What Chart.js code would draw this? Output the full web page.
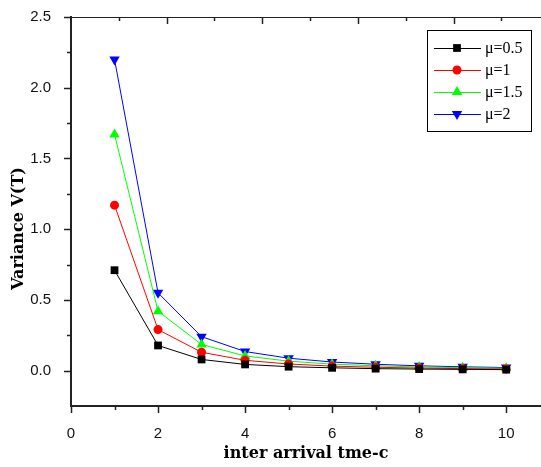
<!DOCTYPE html>
<html>
<head>
<meta charset="utf-8">
<script src="https://cdn.jsdelivr.net/npm/chart.js@4.4.1/dist/chart.umd.min.js"></script>
<style>
  html, body { margin: 0; padding: 0; background: #fff; }
  #wrap { width: 541px; height: 467px; }
</style>
</head>
<body>
<div id="wrap"><canvas id="varChart" width="541" height="467"></canvas></div>
<script>
// Data
const interArrival = [1, 2, 3, 4, 5, 6, 7, 8, 9, 10];
const seriesLabels = ['\u03bc=0.5', '\u03bc=1', '\u03bc=1.5', '\u03bc=2'];
const varMu05 = [0.71, 0.178, 0.079, 0.044, 0.028, 0.020, 0.014, 0.011, 0.009, 0.007];
const varMu1  = [1.17, 0.29, 0.13, 0.073, 0.047, 0.032, 0.024, 0.018, 0.014, 0.012];
const varMu15 = [1.67, 0.42, 0.185, 0.104, 0.067, 0.046, 0.034, 0.026, 0.021, 0.017];
const varMu2  = [2.20, 0.55, 0.24, 0.135, 0.088, 0.061, 0.045, 0.034, 0.027, 0.022];

const serieValues = [varMu05, varMu1, varMu15, varMu2];
const serieColors = ['#000000', '#ff0000', '#00ff00', '#0000ff'];
const serieStyles = ['rect', 'circle', 'triangle', 'triangle'];
const serieRotation = [0, 0, 0, 180];
const serieRadius = [5.5, 4.5, 6, 6];

const yTitle = 'Variance V(T)';

const datasets = serieValues.map((vals, i) => ({
    label: seriesLabels[i],
    data: interArrival.map((c, j) => ({ x: c, y: vals[j] })),
    borderColor: serieColors[i],
    backgroundColor: serieColors[i],
    borderWidth: 1,
    pointStyle: serieStyles[i],
    rotation: serieRotation[i],
    pointRadius: serieRadius[i],
    pointBorderWidth: 0,
    tension: 0
}));

// no extra label padding, so the plot area sits where the reference has it
function noPad(scale) {
    scale.paddingLeft = 0;
    scale.paddingRight = 0;
    scale.paddingTop = 0;
    scale.paddingBottom = 0;
}

// Draws frame, inward/outward ticks (major + minor), y title and the boxed legend
const framePlugin = {
    id: 'frame',
    afterDraw(chart) {
        const ctx = chart.ctx;
        const a = chart.chartArea;
        const xs = chart.scales.x, ys = chart.scales.y, xt = chart.scales.x2;
        ctx.save();
        ctx.strokeStyle = '#222';

        // top frame line
        ctx.lineWidth = 1;
        ctx.beginPath();
        ctx.moveTo(a.left, a.top + 0.5);
        ctx.lineTo(a.right, a.top + 0.5);
        ctx.stroke();

        // bottom ticks (outward)
        ctx.lineWidth = 1.5;
        for (let v = 0; v <= 10; v++) {
            const px = Math.round(xs.getPixelForValue(v)) + 0.5;
            const len = v % 2 === 0 ? 7 : 4;
            ctx.beginPath();
            ctx.moveTo(px, a.bottom);
            ctx.lineTo(px, a.bottom + len);
            ctx.stroke();
        }
        // top ticks (inward)
        for (let v = 1; v <= Math.floor(xt.max); v++) {
            const px = Math.round(xt.getPixelForValue(v)) + 0.5;
            const len = v % 2 === 0 ? 7 : 4;
            ctx.beginPath();
            ctx.moveTo(px, a.top);
            ctx.lineTo(px, a.top + len);
            ctx.stroke();
        }
        // left ticks (outward)
        for (let k = 0; k <= 10; k++) {
            const v = k * 0.25;
            const py = Math.round(ys.getPixelForValue(v)) + 0.5;
            const len = k % 2 === 0 ? 7 : 4;
            ctx.beginPath();
            ctx.moveTo(a.left, py);
            ctx.lineTo(a.left - len, py);
            ctx.stroke();
        }

        // y axis title, sits a bit below the axis centre like the reference
        ctx.save();
        ctx.translate(19, (a.top + a.bottom) / 2 + 17);
        ctx.rotate(-Math.PI / 2);
        ctx.font = 'bold 16px "DejaVu Serif"';
        ctx.fillStyle = '#000';
        ctx.textAlign = 'center';
        ctx.textBaseline = 'middle';
        ctx.fillText(yTitle, 0, 0);
        ctx.restore();

        // legend box
        const bx = 427, by = 30, bw = 104, bh = 101;
        ctx.fillStyle = '#fff';
        ctx.fillRect(bx, by, bw, bh);
        ctx.lineWidth = 1;
        ctx.strokeStyle = '#000';
        ctx.strokeRect(bx + 0.5, by + 0.5, bw, bh);
        ctx.font = '16px "Liberation Serif"';
        ctx.textBaseline = 'middle';
        chart.data.datasets.forEach((ds, i) => {
            const y = by + 18 + i * 22;
            ctx.strokeStyle = ds.borderColor;
            ctx.beginPath();
            ctx.moveTo(bx + 7, y + 0.5);
            ctx.lineTo(bx + 54, y + 0.5);
            ctx.stroke();
            ctx.fillStyle = ds.backgroundColor;
            Chart.helpers.drawPoint(ctx, {
                pointStyle: ds.pointStyle,
                rotation: ds.rotation,
                radius: ds.pointRadius,
                borderWidth: 0
            }, bx + 30, y);
            ctx.fillStyle = '#000';
            ctx.fillText(ds.label, bx + 58, y + 1);
        });
        ctx.restore();
    }
};

new Chart(document.getElementById('varChart'), {
    type: 'line',
    data: { datasets },
    options: {
        responsive: false,
        animation: false,
        layout: { autoPadding: false, padding: { left: 0, top: 17, right: 0, bottom: 0 } },
        plugins: {
            legend: { display: false },
            tooltip: { enabled: false }
        },
        scales: {
            x: {
                type: 'linear',
                min: 0,
                max: 10.8,
                grid: { display: false },
                border: { display: true, color: '#222', width: 2 },
                ticks: {
                    stepSize: 1,
                    includeBounds: false,
                    padding: 11,
                    maxRotation: 0,
                    autoSkip: false,
                    color: '#111',
                    font: { family: '"Liberation Sans", Arial', size: 15 },
                    callback: (v) => (Number.isInteger(v) && v % 2 === 0 ? String(v) : '')
                },
                title: {
                    display: true,
                    text: 'inter arrival tme-c',
                    color: '#000',
                    font: { family: '"DejaVu Serif"', size: 16, weight: 'bold' },
                    padding: { top: 0, bottom: 4 }
                },
                afterFit: (scale) => { scale.height = 61; noPad(scale); }
            },
            x2: {
                type: 'linear',
                position: 'top',
                display: false,
                min: 0,
                max: 9.83,
                ticks: { includeBounds: false },
                afterFit: noPad
            },
            y: {
                min: -0.25,
                max: 2.5,
                grid: { display: false },
                border: { display: true, color: '#222', width: 2 },
                ticks: {
                    stepSize: 0.25,
                    padding: 12,
                    autoSkip: false,
                    color: '#111',
                    font: { family: '"Liberation Sans", Arial', size: 15 },
                    callback: (v) => {
                        const d = v * 2;
                        return v >= 0 && Math.abs(d - Math.round(d)) < 1e-6 ? v.toFixed(1) : '';
                    }
                },
                title: { display: false },
                afterFit: (scale) => { scale.width = 71; noPad(scale); }
            }
        }
    },
    plugins: [framePlugin]
});
</script>
</body>
</html>
